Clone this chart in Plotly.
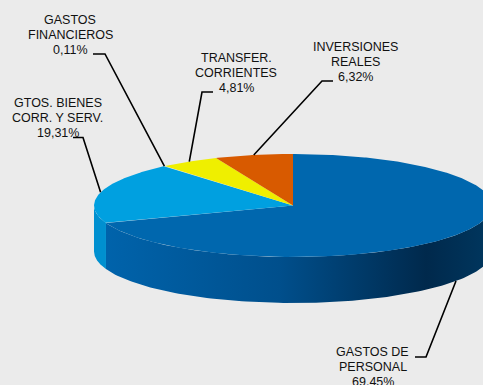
import numpy as np
import plotly.graph_objects as go

# Budget breakdown by chapter (percent of total)
categories = ["GASTOS DE PERSONAL", "GTOS. BIENES CORR. Y SERV.", "GASTOS FINANCIEROS",
              "TRANSFER. CORRIENTES", "INVERSIONES REALES"]
values = [69.45, 19.31, 0.11, 4.81, 6.32]
value_labels = ["69,45%", "19,31%", "0,11%", "4,81%", "6,32%"]
label_lines = [["GASTOS DE", "PERSONAL"], ["GTOS. BIENES", "CORR. Y SERV."],
               ["GASTOS", "FINANCIEROS"], ["TRANSFER.", "CORRIENTES"],
               ["INVERSIONES", "REALES"]]

top_colors = ["#0067AE", "#00A0E0", "#6A5ACD", "#EFEF00", "#D85A00"]
side_colors = ["#0060A8", "#0090D0", "#5A4AB0", "#CFCF00", "#B84A00"]

# Layout of the tilted disc (pixel space)
W, H = 483, 385
CX, CY, RX, RY, DEPTH = 293, 205.5, 199, 51.5, 46
BG = "#EBEBEB"

# Label placement: text centre x, first-line y, leader elbow points
label_pos = [
    (372.5, 352, [(415, 357), (426, 357)]),
    (57.5, 102.5, [(73, 137.5), (83, 137.5)]),
    (70, 20, [(93, 54), (105, 54)]),
    (236, 58, [(213, 92), (202, 92)]),
    (355, 47, [(333, 81), (322, 81)]),
]
LINE_H = 15
FONT = dict(family="Liberation Sans, Arial, sans-serif", size=12.5, color="#111111")


def pt(theta_deg, drop=0.0):
    t = np.radians(theta_deg)
    return CX + RX * np.sin(t), CY - RY * np.cos(t) + drop


fig = go.Figure()

# slice angles, clockwise from 12 o'clock
total = sum(values)
bounds = np.concatenate([[0], np.cumsum(values) / total * 360])

# side wall: visible between 90 and 270 degrees
side_grad = dict(type="horizontal",
                 colorscale=[[0, "#0063AB"], [0.45, "#004F8C"], [0.83, "#00294C"], [1, "#00375F"]])
for i in range(len(values)):
    a0, a1 = max(bounds[i], 90), min(bounds[i + 1], 270)
    if a1 <= a0:
        continue
    th = np.linspace(a0, a1, 120)
    xt, yt = pt(th)
    xb, yb = pt(th[::-1], DEPTH)
    xs = np.concatenate([xt, xb, xt[:1]])
    ys = np.concatenate([yt, yb, yt[:1]])
    kw = dict(fillgradient=side_grad) if i == 0 else dict(fillcolor=side_colors[i])
    fig.add_trace(go.Scatter(x=xs, y=ys, mode="lines", fill="toself",
                             line=dict(width=0), hoverinfo="skip", showlegend=False, **kw))

# top face slices
for i in range(len(values)):
    th = np.linspace(bounds[i], bounds[i + 1], max(3, int((bounds[i + 1] - bounds[i]) * 2)))
    xe, ye = pt(th)
    xs = np.concatenate([[CX], xe, [CX]])
    ys = np.concatenate([[CY], ye, [CY]])
    fig.add_trace(go.Scatter(x=xs, y=ys, mode="lines", fill="toself",
                             fillcolor=top_colors[i], line=dict(width=0),
                             name=categories[i], hoverinfo="name", showlegend=False))

# labels and leader lines
annotations = []
for i in range(len(values)):
    tx, ty, elbow = label_pos[i]
    mid = (bounds[i] + bounds[i + 1]) / 2
    ax, ay = pt(mid, DEPTH if 90 < mid < 270 else 0)
    lx = [elbow[0][0], elbow[1][0], ax]
    ly = [elbow[0][1], elbow[1][1], ay]
    fig.add_trace(go.Scatter(x=lx, y=ly, mode="lines", line=dict(color="#000000", width=1.6),
                             hoverinfo="skip", showlegend=False))
    for j, line in enumerate(label_lines[i] + [value_labels[i]]):
        annotations.append(dict(x=tx, y=ty + j * LINE_H, text=line, showarrow=False,
                                xanchor="center", yanchor="middle", font=FONT))

fig.update_layout(
    width=W, height=H, margin=dict(l=0, r=0, t=0, b=0),
    paper_bgcolor=BG, plot_bgcolor=BG,
    xaxis=dict(range=[0, W], visible=False, fixedrange=True),
    yaxis=dict(range=[H, 0], visible=False, fixedrange=True),
    annotations=annotations,
)

fig.write_html("out.html")
